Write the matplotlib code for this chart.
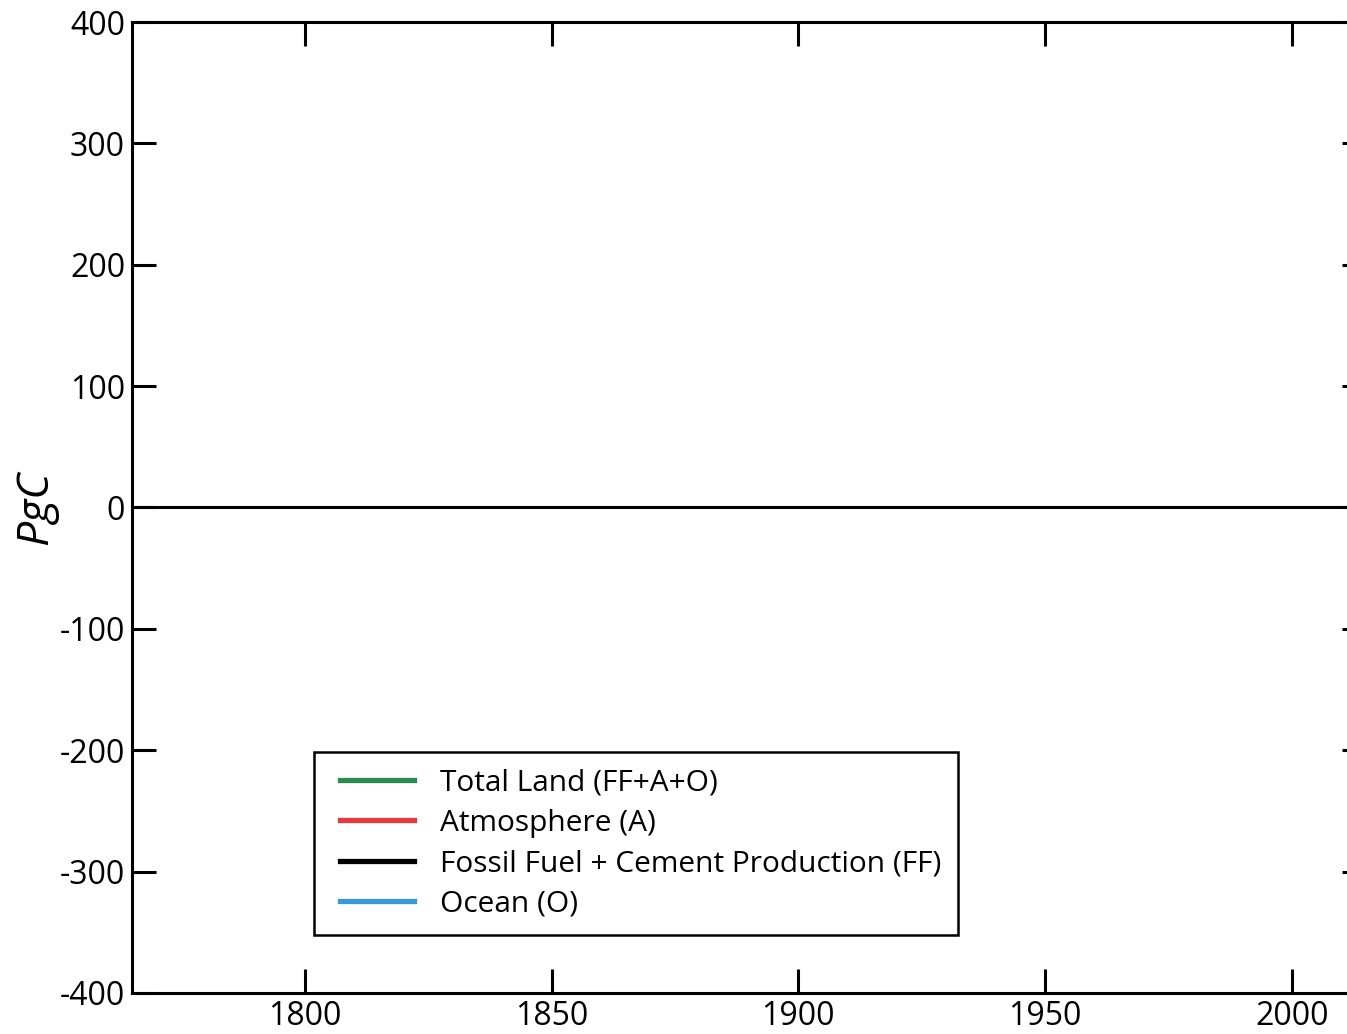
import matplotlib.pyplot as plt
from matplotlib.lines import Line2D
from matplotlib.legend_handler import HandlerLine2D

# series names and colours (chart shows no plotted data, only the legend)
labels = ['Total Land (FF+A+O)', 'Atmosphere (A)',
          'Fossil Fuel + Cement Production (FF)', 'Ocean (O)']
colors = ['#2b8a50', '#e5383f', '#000000', '#3b98d6']
years = []
series = [[], [], [], []]

x_ticks = [1800, 1850, 1900, 1950, 2000]
y_ticks = [400, 300, 200, 100, 0, -100, -200, -300, -400]

plt.rcParams['font.family'] = ['Open Sans', 'DejaVu Sans']
plt.rcParams['axes.unicode_minus'] = False

fig = plt.figure(figsize=(13.47, 10.34), dpi=100)
ax = fig.add_axes([0.098, 0.0397, 0.916, 0.939])

for vals, c, lab in zip(series, colors, labels):
    ax.plot(years, vals, color=c, lw=3.8, label=lab)

ax.axhline(0, color='black', lw=2.2)

ax.set_xlim(1765, 2015)
ax.set_ylim(-400, 400)
ax.set_xticks(x_ticks)
ax.set_yticks(y_ticks)
ax.tick_params(direction='in', length=17, width=2.2, labelsize=23,
               top=True, right=True, pad=5)
for s in ax.spines.values():
    s.set_linewidth(2.2)

ax.set_ylabel('PgC', fontsize=32, style='italic', labelpad=1)

# pad the legend lines a bit in from the frame
fs = 21.5
leg = ax.legend(loc='upper left', bbox_to_anchor=(0.233, 0.2727),
                bbox_transform=fig.transFigure, fontsize=fs, handlelength=2.81,
                labelspacing=0.38, handletextpad=0.88, borderpad=0.55,
                borderaxespad=0, fancybox=False, edgecolor='black', framealpha=1,
                handler_map={Line2D: HandlerLine2D(xpad=0.33)})
leg.get_frame().set_linewidth(1.8)

fig.savefig('out.png', dpi=100)
